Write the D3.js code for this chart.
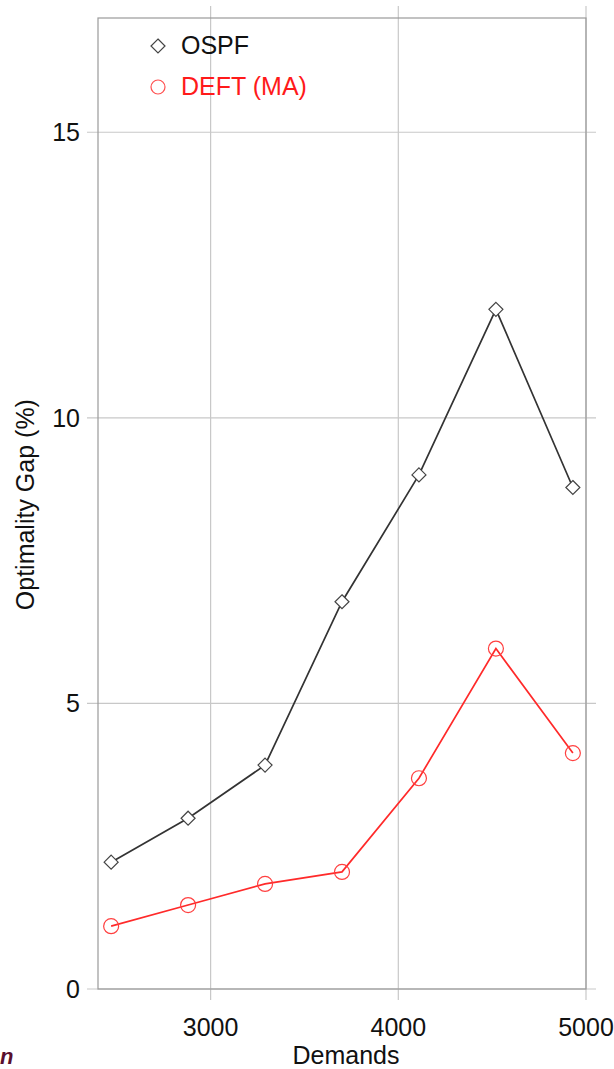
<!DOCTYPE html>
<html>
<head>
<meta charset="utf-8">
<script src="https://cdn.jsdelivr.net/npm/d3@7"></script>
<style>
  body { margin: 0; background: #fff; }
  text { font-family: "Liberation Sans", Arial, sans-serif; }
</style>
</head>
<body>
<div id="chart"></div>
<script>
const demands = [2470, 2880, 3290, 3700, 4110, 4520, 4930];
const ospf = [2.22, 2.99, 3.92, 6.78, 9.0, 11.9, 8.78];
const deft = [1.10, 1.47, 1.84, 2.05, 3.69, 5.96, 4.13];
const xTicks = [3000, 4000, 5000];
const yTicks = [0, 5, 10, 15];
const seriesNames = ['OSPF', 'DEFT (MA)'];

const W = 614, H = 1069;
const margin = { top: 18, right: 28, bottom: 80, left: 98 };
const width = W - margin.left - margin.right;
const height = H - margin.top - margin.bottom;
const fs = 25;

const svg = d3.select('#chart').append('svg')
  .attr('width', W)
  .attr('height', H);

const x = d3.scaleLinear().domain([2400, 5000]).range([0, width]);
const y = d3.scaleLinear().domain([0, 17]).range([height, 0]);

const g = svg.append('g')
  .attr('transform', `translate(${margin.left}, ${margin.top})`);

// grid lines, sticking out a bit past the frame like ticks
g.selectAll('.vgrid').data(xTicks).enter().append('line')
  .attr('class', 'vgrid')
  .attr('x1', d => x(d)).attr('x2', d => x(d))
  .attr('y1', -12).attr('y2', height + 11)
  .attr('stroke', '#c8c8c8').attr('stroke-width', 1.2);
g.selectAll('.hgrid').data(yTicks).enter().append('line')
  .attr('class', 'hgrid')
  .attr('x1', -11).attr('x2', width + 10)
  .attr('y1', d => y(d)).attr('y2', d => y(d))
  .attr('stroke', '#c8c8c8').attr('stroke-width', 1.2);

// frame
g.append('rect')
  .attr('width', width).attr('height', height)
  .attr('fill', 'none').attr('stroke', '#9a9a9a').attr('stroke-width', 1.2);

// tick labels
g.selectAll('.xlab').data(xTicks).enter().append('text')
  .attr('x', d => x(d)).attr('y', height + 47)
  .attr('text-anchor', 'middle').attr('font-size', fs).attr('fill', '#111')
  .text(d => d);
g.selectAll('.ylab').data(yTicks).enter().append('text')
  .attr('x', -18).attr('y', d => y(d) + 9)
  .attr('text-anchor', 'end').attr('font-size', fs).attr('fill', '#111')
  .text(d => d);

// axis titles
g.append('text')
  .attr('x', x(3700) + 4).attr('y', height + 75)
  .attr('text-anchor', 'middle').attr('font-size', fs).attr('fill', '#111')
  .text('Demands');
g.append('text')
  .attr('transform', `translate(-64, ${y(8.48)}) rotate(-90)`)
  .attr('text-anchor', 'middle').attr('font-size', fs).attr('fill', '#111')
  .text('Optimality Gap (%)');

const line = d3.line().x(d => x(d[0])).y(d => y(d[1]));
const ospfPts = demands.map((d, i) => [d, ospf[i]]);
const deftPts = demands.map((d, i) => [d, deft[i]]);

g.append('path').datum(ospfPts)
  .attr('d', line).attr('fill', 'none')
  .attr('stroke', '#333').attr('stroke-width', 1.7);
g.append('path').datum(deftPts)
  .attr('d', line).attr('fill', 'none')
  .attr('stroke', '#ff2a2a').attr('stroke-width', 1.7);

const diamond = 'M0,-7L7,0L0,7L-7,0Z';
g.selectAll('.dia').data(ospfPts).enter().append('path')
  .attr('class', 'dia')
  .attr('d', diamond)
  .attr('transform', d => `translate(${x(d[0])}, ${y(d[1])})`)
  .attr('fill', '#fff').attr('stroke', '#444').attr('stroke-width', 1.2);
g.selectAll('.circ').data(deftPts).enter().append('circle')
  .attr('class', 'circ')
  .attr('cx', d => x(d[0])).attr('cy', d => y(d[1])).attr('r', 7.5)
  .attr('fill', 'none').attr('stroke', '#ff4040').attr('stroke-width', 1.2);

// legend
const leg = g.append('g').attr('transform', 'translate(60, 28)');
leg.append('path').attr('d', 'M0,-7L7,0L0,7L-7,0Z')
  .attr('fill', '#fff').attr('stroke', '#444').attr('stroke-width', 1.2);
leg.append('text').attr('x', 23).attr('y', 8).attr('font-size', fs).attr('fill', '#111')
  .text(seriesNames[0]);
leg.append('circle').attr('cy', 41).attr('r', 7)
  .attr('fill', 'none').attr('stroke', '#ff5050').attr('stroke-width', 1.2);
leg.append('text').attr('x', 23).attr('y', 49).attr('font-size', fs).attr('fill', '#ff1a1a')
  .text(seriesNames[1]);

// cropped glyph at bottom-left corner
svg.append('text').attr('x', 0).attr('y', 1064)
  .attr('font-size', 22).attr('font-weight', 'bold').attr('font-style', 'italic')
  .attr('fill', '#5a0f2e').text('n');
</script>
</body>
</html>
